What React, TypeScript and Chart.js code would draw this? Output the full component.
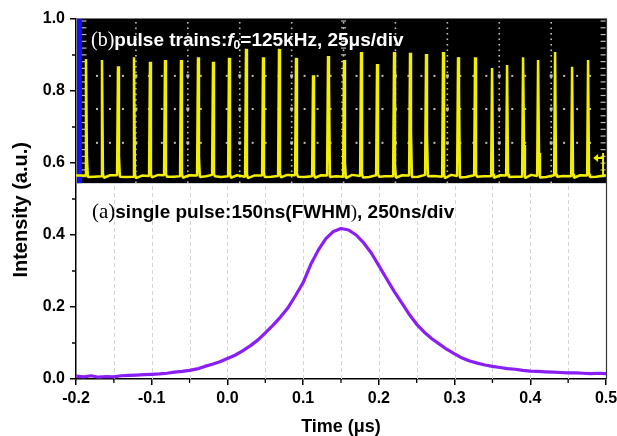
import React, { useEffect, useRef } from "react";
import { Chart, registerables } from "chart.js";

Chart.register(...registerables);

// ---------- main pulse (a) ----------
const timeUs = [
  -0.2, -0.19, -0.18, -0.17, -0.16, -0.15, -0.14, -0.13, -0.12, -0.11,
  -0.1, -0.09, -0.08, -0.07, -0.06, -0.05, -0.04, -0.03, -0.02, -0.01,
  0.0, 0.01, 0.02, 0.03, 0.04, 0.05, 0.06, 0.07, 0.08, 0.09,
  0.1, 0.11, 0.12, 0.13, 0.14, 0.15, 0.16, 0.17, 0.18, 0.19,
  0.2, 0.21, 0.22, 0.23, 0.24, 0.25, 0.26, 0.27, 0.28, 0.29,
  0.3, 0.31, 0.32, 0.33, 0.34, 0.35, 0.36, 0.37, 0.38, 0.39,
  0.4, 0.41, 0.42, 0.43, 0.44, 0.45, 0.46, 0.47, 0.48, 0.49, 0.5,
];
const intensity = [
  0.008, 0.006, 0.009, 0.005, 0.007, 0.006, 0.009, 0.01, 0.011, 0.012,
  0.013, 0.014, 0.016, 0.019, 0.021, 0.024, 0.028, 0.035, 0.041, 0.048,
  0.057, 0.066, 0.078, 0.092, 0.108, 0.128, 0.149, 0.172, 0.198, 0.232,
  0.268, 0.318, 0.358, 0.39, 0.41, 0.418, 0.414, 0.4, 0.378, 0.35,
  0.315, 0.279, 0.244, 0.212, 0.18, 0.152, 0.13, 0.112, 0.097, 0.082,
  0.07, 0.058, 0.05, 0.044, 0.039, 0.035, 0.032, 0.029, 0.027, 0.024,
  0.022, 0.021, 0.02, 0.019, 0.018, 0.017, 0.017, 0.016, 0.015, 0.016, 0.015,
];

const xTickValues = [-0.2, -0.1, 0.0, 0.1, 0.2, 0.3, 0.4, 0.5];
const xMinorTicks = [-0.15, -0.05, 0.05, 0.15, 0.25, 0.35, 0.45];
const xGridValues = [-0.15, -0.1, -0.05, 0.0, 0.05, 0.1, 0.15, 0.2, 0.25, 0.3, 0.35, 0.4, 0.45];
const yTickValues = [0.0, 0.2, 0.4, 0.6, 0.8, 1.0];
const yMinorTicks = [0.1, 0.3, 0.5, 0.7, 0.9];

// ---------- pulse trains (b), oscilloscope time in µs ----------
const scopeRange = [-3.85, 251.4];
const scopeDivisions = [0, 25, 50, 75, 100, 125, 150, 175, 200, 225, 250];
const scopeRows = [0.656, 0.75, 0.842];
const scopeBottom = 0.544;
const pulseTimes = [
  0.96, 8.67, 16.38, 24.08, 31.79, 39.02, 46.72, 54.91, 62.14, 69.85, 78.03,
  86.22, 93.93, 102.12, 110.31, 117.53, 125.24, 133.43, 141.14, 149.33, 157.03,
  164.74, 172.93, 180.15, 188.34, 196.53, 203.76, 211.46, 218.69, 226.88, 235.07, 242.77,
];
const pulsePeaks = [
  0.889, 0.886, 0.869, 0.894, 0.881, 0.886, 0.886, 0.894, 0.881, 0.892, 0.917,
  0.894, 0.917, 0.892, 0.844, 0.897, 0.886, 0.908, 0.875, 0.908, 0.906,
  0.903, 0.908, 0.894, 0.894, 0.864, 0.872, 0.894, 0.886, 0.908, 0.867, 0.886,
];
const pulseShoulders = [
  0.617, 0.57, 0.62, 0.57, 0.57, 0.57, 0.57, 0.617, 0.57, 0.57, 0.57,
  0.57, 0.57, 0.57, 0.57, 0.83, 0.6, 0.57, 0.57, 0.594, 0.689,
  0.678, 0.57, 0.803, 0.57, 0.57, 0.57, 0.65, 0.628, 0.57, 0.57, 0.57,
];
const baseBefore = [
  0.565, 0.563, 0.566, 0.562, 0.564, 0.566, 0.563, 0.565, 0.567, 0.563, 0.562,
  0.565, 0.564, 0.566, 0.563, 0.565, 0.562, 0.564, 0.566, 0.563, 0.565,
  0.567, 0.562, 0.564, 0.566, 0.563, 0.565, 0.562, 0.564, 0.566, 0.563, 0.565,
];
const baseMid = [
  0.562, 0.566, 0.561, 0.565, 0.567, 0.562, 0.566, 0.563, 0.561, 0.566, 0.565,
  0.562, 0.567, 0.561, 0.566, 0.563, 0.567, 0.561, 0.563, 0.566, 0.562,
  0.564, 0.567, 0.561, 0.563, 0.566, 0.562, 0.567, 0.561, 0.564, 0.566, 0.562,
];
const traceEnds = [0.565, 0.566];
const markerLevel = 0.614;

const SANS = "'Liberation Sans', Arial, sans-serif";
const SERIF = "'Liberation Serif', 'Times New Roman', serif";

function fmt(v: number) {
  const n = Math.abs(v) < 1e-9 ? 0 : v;
  return n.toFixed(1);
}

function buildTrace() {
  const pts: { x: number; y: number }[] = [];
  pts.push({ x: scopeRange[0], y: traceEnds[0] });
  pulseTimes.forEach((t, i) => {
    pts.push({ x: t - 0.45, y: baseBefore[i] });
    pts.push({ x: t, y: pulsePeaks[i] });
    pts.push({ x: t + 0.45, y: pulseShoulders[i] });
    pts.push({ x: t + 0.9, y: baseBefore[i] - 0.004 });
    pts.push({ x: t + 3.9, y: baseMid[i] });
  });
  pts.push({ x: scopeRange[1], y: traceEnds[1] });
  return pts;
}

const overlayPlugin = {
  id: "overlay",
  beforeDatasetsDraw(chart: any) {
    const { ctx, chartArea, scales } = chart;
    const x = scales.x, x2 = scales.x2, y = scales.y;
    ctx.save();
    // dashed vertical grid
    ctx.strokeStyle = "#d4d4d4";
    ctx.lineWidth = 1;
    ctx.setLineDash([4, 3]);
    xGridValues.forEach((v) => {
      const px = Math.round(x.getPixelForValue(v)) + 0.5;
      ctx.beginPath();
      ctx.moveTo(px, chartArea.bottom);
      ctx.lineTo(px, chartArea.top);
      ctx.stroke();
    });
    ctx.setLineDash([]);
    // oscilloscope screen
    const top = y.getPixelForValue(1.0);
    const bot = y.getPixelForValue(scopeBottom);
    const left = chartArea.left + 1;
    const right = chartArea.right;
    ctx.fillStyle = "#000";
    ctx.fillRect(left, top, right - left, bot - top);
    const g0 = x2.getPixelForValue(scopeDivisions[0]);
    const g1 = x2.getPixelForValue(scopeDivisions[scopeDivisions.length - 1]);
    ctx.fillStyle = "#bdbdbd";
    scopeDivisions.forEach((d, i) => {
      const px = x2.getPixelForValue(d);
      if (i > 0 && i < scopeDivisions.length - 1) {
        for (let py = top + 3; py < bot - 1; py += 5.5) ctx.fillRect(px - 0.8, py, 1.6, 1.6);
      }
    });
    // ruler ticks on edges and center
    const rowStep = (y.getPixelForValue(scopeRows[0]) - y.getPixelForValue(scopeRows[1])) / 5;
    const rulerX = [g0, x2.getPixelForValue(scopeDivisions[5]), g1];
    rulerX.forEach((rx) => {
      for (let py = y.getPixelForValue(scopeRows[0]); py > top + 1; py -= rowStep)
        ctx.fillRect(rx - 2.5, py - 0.6, 5, 1.2);
      for (let py = y.getPixelForValue(scopeRows[0]) + rowStep; py < bot - 1; py += rowStep)
        ctx.fillRect(rx - 2.5, py - 0.6, 5, 1.2);
    });
    // horizontal dotted rows
    scopeRows.forEach((r) => {
      const py = y.getPixelForValue(r);
      scopeDivisions.forEach((d, i) => {
        if (i === scopeDivisions.length - 1) return;
        for (let k = 1; k <= 3; k++) {
          const px = x2.getPixelForValue(d + (25 * k) / 4);
          ctx.fillRect(px - 1, py - 1, 2, 2);
        }
        if (i > 0) ctx.fillRect(x2.getPixelForValue(d) - 1.5, py - 1.5, 3, 3);
      });
    });
    // blue side bar
    ctx.fillStyle = "#1010ff";
    const bx1 = x2.getPixelForValue(-1.0);
    ctx.fillRect(left, top, bx1 - left, bot - top);
    ctx.restore();
  },
  afterDatasetsDraw(chart: any) {
    const { ctx, chartArea, scales } = chart;
    const x = scales.x, x2 = scales.x2, y = scales.y;
    ctx.save();
    // yellow level marker on right
    const my = y.getPixelForValue(markerLevel);
    const mx0 = x2.getPixelForValue(245.2);
    const mx1 = x2.getPixelForValue(250.0);
    ctx.strokeStyle = "#f2ee00";
    ctx.fillStyle = "#f2ee00";
    ctx.lineWidth = 2;
    ctx.beginPath();
    ctx.moveTo(mx0 + 3, my);
    ctx.lineTo(mx1, my);
    ctx.moveTo(mx1, my - 5);
    ctx.lineTo(mx1, y.getPixelForValue(traceEnds[1]));
    ctx.stroke();
    ctx.beginPath();
    ctx.moveTo(mx0, my);
    ctx.lineTo(mx0 + 5, my - 4);
    ctx.lineTo(mx0 + 5, my + 4);
    ctx.closePath();
    ctx.fill();

    // frame top and right
    ctx.strokeStyle = "#7a7a7a";
    ctx.lineWidth = 1.2;
    ctx.beginPath();
    ctx.moveTo(chartArea.left, chartArea.top - 0.5);
    ctx.lineTo(chartArea.right + 0.5, chartArea.top - 0.5);
    ctx.stroke();
    ctx.strokeStyle = "#333";
    ctx.beginPath();
    ctx.moveTo(chartArea.right + 0.5, chartArea.top - 0.5);
    ctx.lineTo(chartArea.right + 0.5, chartArea.bottom);
    ctx.stroke();

    // minor ticks
    ctx.strokeStyle = "#000";
    ctx.lineWidth = 1.3;
    ctx.beginPath();
    xMinorTicks.forEach((v) => {
      const px = x.getPixelForValue(v);
      ctx.moveTo(px, chartArea.bottom);
      ctx.lineTo(px, chartArea.bottom + 4);
    });
    yMinorTicks.forEach((v) => {
      const py = y.getPixelForValue(v);
      ctx.moveTo(chartArea.left, py);
      ctx.lineTo(chartArea.left - 4, py);
    });
    ctx.stroke();

    // y axis title (centred slightly below the axis middle, as in the original)
    ctx.save();
    ctx.translate(21, y.getPixelForValue(0.47));
    ctx.rotate(-Math.PI / 2);
    ctx.font = `bold 20px ${SANS}`;
    ctx.fillStyle = "#000";
    ctx.textAlign = "center";
    ctx.textBaseline = "middle";
    ctx.fillText("Intensity (a.u.)", 0, 0);
    ctx.restore();

    // annotations
    const runs = (sx: number, sy: number, parts: any[]) => {
      let cx = sx;
      parts.forEach((p) => {
        ctx.font = p.font;
        ctx.fillStyle = p.color;
        ctx.fillText(p.text, cx, sy + (p.dy || 0));
        cx += ctx.measureText(p.text).width;
      });
    };
    ctx.textBaseline = "alphabetic";
    ctx.textAlign = "left";
    const bx = chartArea.left + 15;
    runs(bx, y.getPixelForValue(0.925), [
      { text: "(b)", font: `20px ${SERIF}`, color: "#fff" },
      { text: "pulse trains:", font: `bold 19px ${SANS}`, color: "#fff" },
      { text: "f", font: `italic bold 19px ${SANS}`, color: "#fff" },
      { text: "0", font: `bold 12px ${SANS}`, color: "#fff", dy: 3 },
      { text: "=125kHz, 25\u03bcs/div", font: `bold 19px ${SANS}`, color: "#fff" },
    ]);
    runs(bx + 1, y.getPixelForValue(0.447), [
      { text: "(a)", font: `21px ${SERIF}`, color: "#000" },
      { text: "single pulse:150ns(FWHM", font: `bold 19px ${SANS}`, color: "#000" },
      { text: ")", font: `19px ${SERIF}`, color: "#000" },
      { text: ", 250ns/div", font: `bold 19px ${SANS}`, color: "#000" },
    ]);
    ctx.restore();
  },
};

export default function App() {
  const ref = useRef<HTMLCanvasElement | null>(null);
  useEffect(() => {
    document.body.style.margin = "0";
    document.body.style.overflow = "hidden";
    const canvas = ref.current;
    if (!canvas) return;
    const tickFont = { family: SANS, size: 16, weight: "bold" as const };
    const chart = new Chart(canvas, {
      type: "line",
      data: {
        datasets: [
          {
            data: timeUs.map((t, i) => ({ x: t, y: intensity[i] })),
            xAxisID: "x",
            yAxisID: "y",
            borderColor: "#8a1ef5",
            borderWidth: 3.2,
            pointRadius: 0,
            tension: 0,
            borderJoinStyle: "round",
          },
          {
            data: buildTrace(),
            xAxisID: "x2",
            yAxisID: "y",
            borderColor: "#f2ee00",
            borderWidth: 2.5,
            pointRadius: 0,
            tension: 0,
            borderJoinStyle: "bevel",
          },
        ],
      },
      options: {
        animation: false,
        responsive: false,
        devicePixelRatio: 1,
        layout: { padding: { top: 19, right: 11, left: 0, bottom: 0 } },
        plugins: { legend: { display: false }, tooltip: { enabled: false } },
        scales: {
          x: {
            type: "linear",
            min: -0.2,
            max: 0.5,
            afterBuildTicks: (s: any) => {
              s.ticks = xTickValues.map((v) => ({ value: v }));
            },
            afterFit: (s: any) => {
              s.height = 57;
              s.paddingLeft = 0;
              s.paddingRight = 0;
            },
            ticks: {
              callback: (v: any) => fmt(Number(v)),
              font: tickFont,
              color: "#000",
              padding: 4,
              maxRotation: 0,
              autoSkip: false,
            },
            grid: { drawOnChartArea: false, tickLength: 6, color: "#000", lineWidth: 1.5 },
            border: { color: "#000", width: 1.5 },
            title: {
              display: true,
              text: "Time (\u03bcs)",
              font: { family: SANS, size: 18, weight: "bold" },
              color: "#000",
              padding: { top: 0, bottom: -2 },
            },
          },
          x2: {
            type: "linear",
            min: scopeRange[0],
            max: scopeRange[1],
            display: false,
          },
          y: {
            type: "linear",
            min: 0,
            max: 1,
            afterBuildTicks: (s: any) => {
              s.ticks = yTickValues.map((v) => ({ value: v }));
            },
            afterFit: (s: any) => {
              s.width = 76;
              s.paddingTop = 0;
              s.paddingBottom = 0;
            },
            ticks: {
              callback: (v: any) => fmt(Number(v)),
              font: tickFont,
              color: "#000",
              padding: 5,
              autoSkip: false,
            },
            grid: { drawOnChartArea: false, tickLength: 6, color: "#000", lineWidth: 1.5 },
            border: { color: "#000", width: 1.5 },
            title: { display: false },
          },
        },
      } as any,
      plugins: [overlayPlugin],
    });
    return () => chart.destroy();
  }, []);
  return (
    <div style={{ width: 617, height: 436 }}>
      <canvas ref={ref} width={617} height={436} style={{ display: "block" }} />
    </div>
  );
}
